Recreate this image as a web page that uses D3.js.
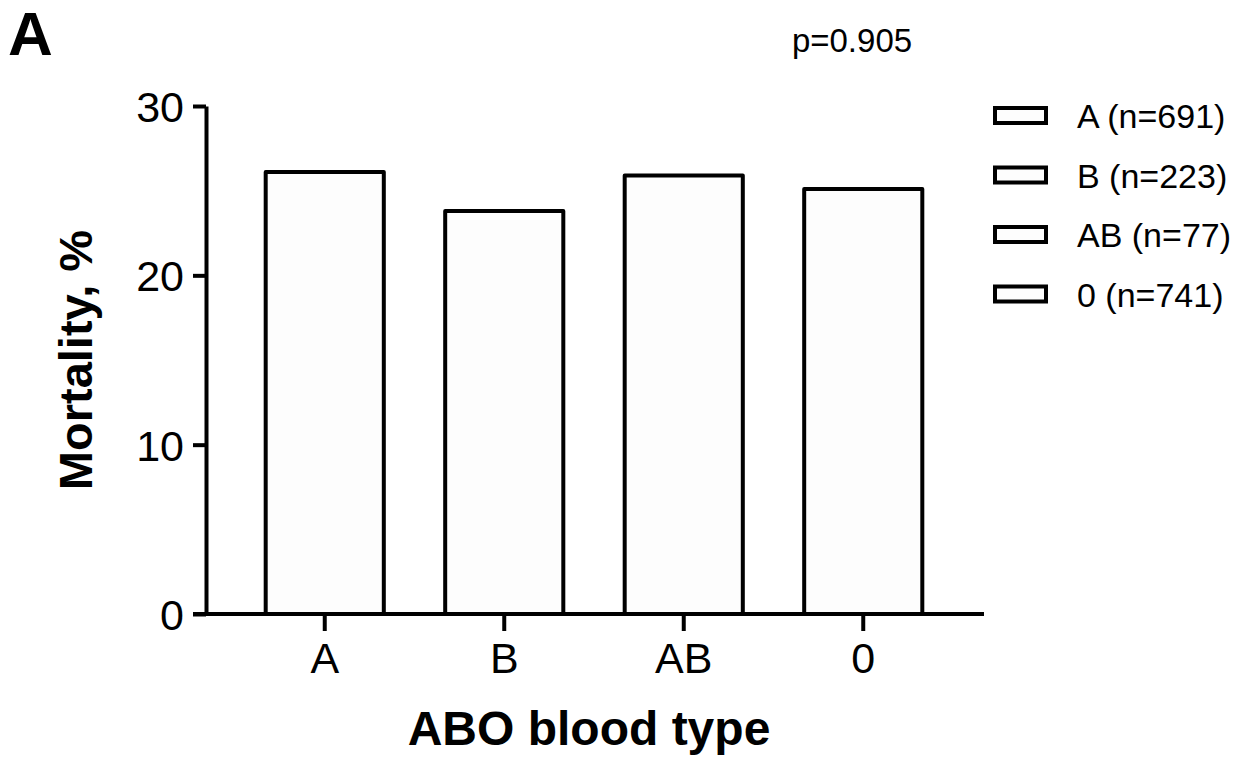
<!DOCTYPE html>
<html lang="en">
<head>
<meta charset="utf-8">
<script src="https://cdn.jsdelivr.net/npm/d3@7"></script>
<style>
  body { margin: 0; background: #fff; }
  svg text { font-family: "Liberation Sans", Arial, Helvetica, sans-serif; fill: #000; }
</style>
</head>
<body>
<div id="chart"></div>
<script>
// data
const bloodTypes = ["A", "B", "AB", "0"];
const mortality = [26.1, 23.8, 25.9, 25.1];
const legendLabels = ["A (n=691)", "B (n=223)", "AB (n=77)", "0 (n=741)"];
const yTicks = [0, 10, 20, 30];
const pValue = "p=0.905";

const w = 1249, h = 757;
const svg = d3.select("#chart").append("svg")
  .attr("width", w)
  .attr("height", h);

const x = d3.scaleBand()
  .domain(bloodTypes)
  .range([235, 953])
  .paddingInner(0.342)
  .paddingOuter(0.171);

const y = d3.scaleLinear()
  .domain([0, 30])
  .range([614, 106]);

const axisX0 = 206;   // where the y axis sits
const lw = 4;

// bars
svg.selectAll("rect.bar")
  .data(bloodTypes)
  .enter()
  .append("rect")
  .attr("class", "bar")
  .attr("x", d => x(d))
  .attr("y", (d, i) => y(mortality[i]))
  .attr("width", x.bandwidth())
  .attr("height", (d, i) => y(0) - y(mortality[i]))
  .attr("fill", "#fdfdfd")
  .attr("stroke", "#000")
  .attr("stroke-width", lw)
  .attr("stroke-linejoin", "round");

// y axis
const yAxis = d3.axisLeft(y).tickValues(yTicks).tickSize(13).tickSizeOuter(0).tickPadding(9);
const gy = svg.append("g")
  .attr("transform", "translate(" + axisX0 + ",0)")
  .call(yAxis);
gy.select(".domain").attr("stroke-width", lw);
gy.selectAll(".tick line").attr("stroke-width", lw);
gy.selectAll(".tick text").style("font-size", "43px").attr("dy", "0.36em");

// x axis
const xAxis = d3.axisBottom(x).tickSize(17).tickPadding(11);
const gx = svg.append("g")
  .attr("transform", "translate(0," + y(0) + ")")
  .call(xAxis);
gx.select(".domain").remove();
gx.selectAll(".tick line").attr("stroke-width", lw);
gx.selectAll(".tick text").style("font-size", "43px");
gx.append("line")
  .attr("x1", axisX0 - 13)
  .attr("x2", x.range()[1] + 31)
  .attr("stroke", "#000")
  .attr("stroke-width", lw);

// titles
svg.append("text")
  .attr("transform", "translate(92," + y(15) + ") rotate(-90)")
  .attr("text-anchor", "middle")
  .style("font-size", "47px")
  .style("font-weight", "bold")
  .text("Mortality, %");

svg.append("text")
  .attr("x", 589)
  .attr("y", 745)
  .attr("text-anchor", "middle")
  .style("font-size", "48px")
  .style("font-weight", "bold")
  .text("ABO blood type");

svg.append("text")
  .attr("x", 8)
  .attr("y", 55)
  .style("font-size", "62px")
  .style("font-weight", "bold")
  .text("A");

svg.append("text")
  .attr("x", 852)
  .attr("y", 52)
  .attr("text-anchor", "middle")
  .style("font-size", "33px")
  .text(pValue);

// legend
const legend = svg.selectAll("g.legend")
  .data(legendLabels)
  .enter()
  .append("g")
  .attr("class", "legend")
  .attr("transform", (d, i) => "translate(995," + (116 + i * 59.5) + ")");

legend.append("rect")
  .attr("x", 0)
  .attr("y", -8)
  .attr("width", 51)
  .attr("height", 15)
  .attr("fill", "#fdfdfd")
  .attr("stroke", "#000")
  .attr("stroke-width", lw);

legend.append("text")
  .attr("x", 82)
  .attr("y", 0)
  .attr("dy", "0.36em")
  .style("font-size", "34px")
  .text(d => d);
</script>
</body>
</html>
